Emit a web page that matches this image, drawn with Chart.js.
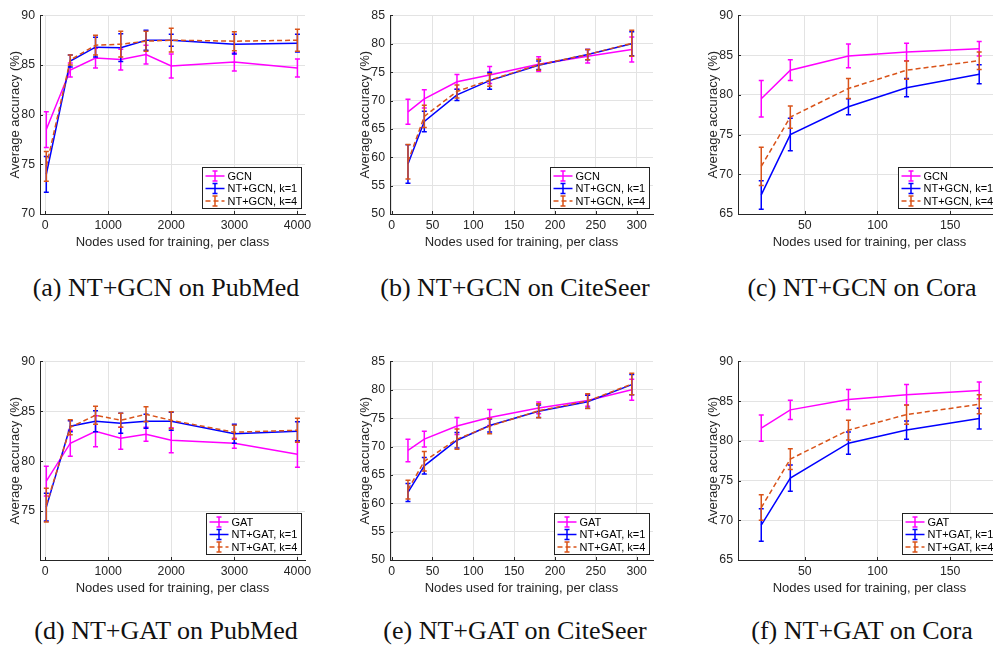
<!DOCTYPE html>
<html><head><meta charset="utf-8">
<script src="https://cdn.jsdelivr.net/npm/chart.js@4.4.0/dist/chart.umd.min.js"></script>
<style>
html,body{margin:0;padding:0;background:#fff;overflow:hidden;width:993px;height:646px;}
#wrap{position:relative;width:993px;height:646px;overflow:hidden;background:#fff;}
#wrap canvas{position:absolute;}
.cap{position:absolute;width:400px;text-align:center;font-family:'Liberation Serif','Times New Roman',serif;font-size:26px;line-height:26px;color:#111;white-space:nowrap;}
</style></head><body><div id="wrap"></div>
<script>
// ---------- data ----------
const xPubMed = [20, 400, 800, 1200, 1600, 2000, 3000, 4000];
const xCiteSeer = [20, 40, 80, 120, 180, 240, 294];
const xCora = [20, 40, 80, 120, 170];

const xTicksPubMed = [0, 1000, 2000, 3000, 4000];
const xTicksCiteSeer = [0, 50, 100, 150, 200, 250, 300];
const xTicksCora = [50, 100, 150];
const yTicksPubMedGcn = [70, 75, 80, 85, 90];
const yTicksPubMedGat = [75, 80, 85, 90];
const yTicksCiteSeer = [50, 55, 60, 65, 70, 75, 80, 85];
const yTicksCora = [65, 70, 75, 80, 85, 90];

const gcnLabels = ['GCN', 'NT+GCN, k=1', 'NT+GCN, k=4'];
const gatLabels = ['GAT', 'NT+GAT, k=1', 'NT+GAT, k=4'];
const captions = ['(a) NT+GCN on PubMed', '(b) NT+GCN on CiteSeer', '(c) NT+GCN on Cora',
                  '(d) NT+GAT on PubMed', '(e) NT+GAT on CiteSeer', '(f) NT+GAT on Cora'];
const xTitle = 'Nodes used for training, per class';
const yTitle = 'Average accuracy (%)';

// (a) PubMed, GCN
const gcnPubMed = [78.5, 84.5, 85.7, 85.55, 86.05, 84.9, 85.3, 84.7];
const gcnPubMedErr = [1.8, 0.7, 1.0, 1.05, 0.95, 1.2, 0.9, 0.9];
const ntGcnK1PubMed = [74.0, 85.4, 86.8, 86.75, 87.5, 87.5, 87.1, 87.2];
const ntGcnK1PubMedErr = [1.8, 0.6, 1.0, 1.4, 1.0, 0.6, 1.0, 0.9];
const ntGcnK4PubMed = [74.8, 85.5, 87.0, 87.1, 87.4, 87.5, 87.4, 87.5];
const ntGcnK4PubMedErr = [1.5, 0.5, 1.0, 1.3, 1.0, 1.2, 0.95, 1.1];

// (b) CiteSeer, GCN
const gcnCiteSeer = [68.0, 70.3, 73.3, 74.5, 76.4, 77.8, 79.0];
const gcnCiteSeerErr = [2.2, 1.6, 1.3, 1.5, 1.3, 1.2, 2.2];
const ntGcnK1CiteSeer = [58.8, 66.3, 71.0, 73.5, 76.2, 78.1, 80.0];
const ntGcnK1CiteSeerErr = [3.4, 1.8, 1.0, 1.5, 0.75, 0.9, 2.1];
const ntGcnK4CiteSeer = [59.2, 67.2, 71.6, 73.6, 76.3, 78.1, 80.1];
const ntGcnK4CiteSeerErr = [3.05, 1.95, 1.15, 1.1, 0.95, 0.9, 2.3];

// (c) Cora, GCN
const gcnCora = [79.5, 83.1, 84.9, 85.4, 85.8];
const gcnCoraErr = [2.3, 1.3, 1.5, 1.1, 0.9];
const ntGcnK1Cora = [67.4, 75.0, 78.5, 80.9, 82.6];
const ntGcnK1CoraErr = [1.8, 2.05, 1.0, 1.15, 1.2];
const ntGcnK4Cora = [71.0, 77.2, 80.8, 83.1, 84.3];
const ntGcnK4CoraErr = [2.4, 1.4, 1.25, 1.15, 1.1];

// (d) PubMed, GAT
const gatPubMed = [78.0, 81.8, 83.0, 82.3, 82.7, 82.1, 81.8, 80.7];
const gatPubMedErr = [1.5, 1.3, 1.55, 1.1, 0.7, 1.25, 0.5, 1.3];
const ntGatK1PubMed = [75.4, 83.5, 84.0, 83.8, 84.0, 84.0, 82.75, 83.0];
const ntGatK1PubMedErr = [1.4, 0.55, 1.05, 1.0, 0.7, 0.9, 0.95, 0.95];
const ntGatK4PubMed = [75.6, 83.4, 84.6, 84.1, 84.7, 84.1, 82.9, 83.1];
const ntGatK4PubMedErr = [1.7, 0.75, 0.9, 0.7, 0.75, 0.85, 0.7, 1.2];

// (e) CiteSeer, GAT
const gatCiteSeer = [69.3, 71.3, 73.6, 75.1, 76.8, 78.1, 80.0];
const gatCiteSeerErr = [2.0, 1.4, 1.5, 1.4, 1.05, 1.0, 1.85];
const ntGatK1CiteSeer = [61.9, 66.6, 71.1, 73.7, 76.2, 77.9, 80.9];
const ntGatK1CiteSeerErr = [1.6, 1.45, 1.35, 1.15, 1.1, 1.15, 1.8];
const ntGatK4CiteSeer = [62.4, 67.4, 71.3, 73.6, 76.3, 78.0, 81.0];
const ntGatK4CiteSeerErr = [1.65, 1.7, 1.8, 1.35, 1.25, 1.3, 1.9];

// (f) Cora, GAT
const gatCora = [81.6, 83.9, 85.2, 85.8, 86.35];
const gatCoraErr = [1.65, 1.2, 1.25, 1.3, 1.05];
const ntGatK1Cora = [69.4, 75.3, 79.7, 81.35, 82.8];
const ntGatK1CoraErr = [2.05, 1.65, 1.4, 1.15, 1.3];
const ntGatK4Cora = [71.6, 77.7, 81.35, 83.3, 84.6];
const ntGatK4CoraErr = [1.6, 1.3, 1.25, 1.2, 1.2];

// ---------- styling / layout ----------
const COLORS = ['#ff00ff', '#0000ff', '#d95319'];
const DASHES = [[], [], [5, 3]];
const AXIS_COLOR = '#262626';
const GRID_COLOR = '#e3e3e3';
const CAP = 2.5;
Chart.defaults.font.family = "'Liberation Sans', Arial, Helvetica, sans-serif";

const errorBarPlugin = {
  id: 'errbars',
  afterDatasetDraw(chart, args) {
    const ds = chart.data.datasets[args.index];
    if (!ds.err) return;
    const ctx = chart.ctx, xs = chart.scales.x, ys = chart.scales.y;
    ctx.save();
    ctx.strokeStyle = ds.borderColor;
    ctx.lineWidth = 1.5;
    ctx.setLineDash([]);
    ds.data.forEach((p, i) => {
      const px = xs.getPixelForValue(p.x);
      const y1 = ys.getPixelForValue(p.y - ds.err[i]);
      const y2 = ys.getPixelForValue(p.y + ds.err[i]);
      ctx.beginPath();
      ctx.moveTo(px, y1); ctx.lineTo(px, y2);
      ctx.moveTo(px - CAP, y1); ctx.lineTo(px + CAP, y1);
      ctx.moveTo(px - CAP, y2); ctx.lineTo(px + CAP, y2);
      ctx.stroke();
    });
    ctx.restore();
  }
};

const decorPlugin = {
  id: 'decor',
  afterDraw(chart) {
    const a = chart.chartArea, ctx = chart.ctx;
    const xs = chart.scales.x, ys = chart.scales.y;
    ctx.save();
    // inward tick marks
    ctx.strokeStyle = AXIS_COLOR; ctx.lineWidth = 1; ctx.setLineDash([]);
    ctx.beginPath();
    xs.ticks.forEach(t => {
      const px = Math.round(xs.getPixelForValue(t.value)) + 0.5;
      ctx.moveTo(px, a.bottom); ctx.lineTo(px, a.bottom - 3);
    });
    ys.ticks.forEach(t => {
      const py = Math.round(ys.getPixelForValue(t.value)) + 0.5;
      ctx.moveTo(a.left, py); ctx.lineTo(a.left + 3, py);
    });
    ctx.stroke();
    // legend box (bottom-right, inside plot)
    const dsets = chart.data.datasets;
    ctx.font = "11px 'Liberation Sans', Arial, sans-serif";
    const tw = Math.max(...dsets.map(d => ctx.measureText(d.label).width));
    const w = Math.round(25 + tw + 4), h = 41;
    const L = Math.round(a.right - 4 - w) + 0.5, T = Math.round(a.bottom - 6 - h) + 0.5;
    ctx.fillStyle = '#fff'; ctx.fillRect(L, T, w, h);
    ctx.strokeStyle = '#222'; ctx.lineWidth = 1; ctx.strokeRect(L, T, w, h);
    dsets.forEach((d, i) => {
      const cy = T + 8.5 + i * 12.5;
      ctx.strokeStyle = d.borderColor; ctx.lineWidth = 1.5;
      ctx.setLineDash(d.borderDash || []);
      ctx.beginPath(); ctx.moveTo(L + 3, cy); ctx.lineTo(L + 22, cy); ctx.stroke();
      ctx.setLineDash([]);
      const mx = L + 12.5;
      ctx.beginPath();
      ctx.moveTo(mx, cy - 5); ctx.lineTo(mx, cy + 5);
      ctx.moveTo(mx - CAP, cy - 5); ctx.lineTo(mx + CAP, cy - 5);
      ctx.moveTo(mx - CAP, cy + 5); ctx.lineTo(mx + CAP, cy + 5);
      ctx.stroke();
      ctx.fillStyle = '#000'; ctx.textBaseline = 'middle'; ctx.textAlign = 'left';
      ctx.fillText(d.label, L + 25, cy + 0.5);
    });
    ctx.restore();
  }
};

function makeDatasets(xs, labels, series, errs) {
  return series.map((s, k) => ({
    label: labels[k],
    data: xs.map((x, i) => ({ x: x, y: s[i] })),
    err: errs[k],
    borderColor: COLORS[k],
    backgroundColor: COLORS[k],
    borderWidth: 1.5,
    borderDash: DASHES[k],
    pointRadius: 0,
    tension: 0,
    fill: false,
    order: 3 - k
  }));
}

function makePanel(p) {
  const wrap = document.getElementById('wrap');
  const cv = document.createElement('canvas');
  cv.width = p.w; cv.height = p.h;
  cv.style.left = p.left + 'px'; cv.style.top = p.top + 'px';
  cv.style.width = p.w + 'px'; cv.style.height = p.h + 'px';
  wrap.appendChild(cv);
  new Chart(cv.getContext('2d'), {
    type: 'line',
    data: { datasets: makeDatasets(p.xs, p.labels, p.series, p.errs) },
    options: {
      responsive: false, animation: false, devicePixelRatio: 1,
      layout: { padding: { top: 10, right: 15, left: 0, bottom: 0 } },
      plugins: { legend: { display: false }, tooltip: { enabled: false } },
      scales: {
        x: {
          type: 'linear', min: p.xmin, max: p.xmax,
          afterBuildTicks: s => { s.ticks = p.xticks.map(v => ({ value: v })); },
          afterFit: s => { s.height = 40; },
          grid: { color: GRID_COLOR, drawTicks: false },
          border: { color: AXIS_COLOR, width: 1 },
          ticks: { padding: 4, color: AXIS_COLOR, font: { size: 12.3 }, maxRotation: 0, autoSkip: false, callback: v => String(v) },
          title: { display: true, text: xTitle, color: AXIS_COLOR, font: { size: 13 }, padding: { top: 0, bottom: 4.2 } }
        },
        y: {
          type: 'linear', min: p.ymin, max: p.ymax,
          afterBuildTicks: s => { s.ticks = p.yticks.map(v => ({ value: v })); },
          afterFit: s => { s.width = 40; },
          grid: { color: GRID_COLOR, drawTicks: false },
          border: { color: AXIS_COLOR, width: 1 },
          ticks: { padding: 5, color: AXIS_COLOR, font: { size: 12.3 }, autoSkip: false, callback: v => String(v) },
          title: { display: true, text: yTitle, color: AXIS_COLOR, font: { size: 13 }, padding: { top: 7.2, bottom: 0 } }
        }
      }
    },
    plugins: [errorBarPlugin, decorPlugin]
  });
}

const rowTops = [3, 349];
const colLefts = [0, 350, 698];
const colWidths = [320, 318, 318];
const H = 251;

const panels = [
  { xs: xPubMed, labels: gcnLabels, series: [gcnPubMed, ntGcnK1PubMed, ntGcnK4PubMed], errs: [gcnPubMedErr, ntGcnK1PubMedErr, ntGcnK4PubMedErr], xmin: -80, xmax: 4120, xticks: xTicksPubMed, ymin: 70, ymax: 90, yticks: yTicksPubMedGcn },
  { xs: xCiteSeer, labels: gcnLabels, series: [gcnCiteSeer, ntGcnK1CiteSeer, ntGcnK4CiteSeer], errs: [gcnCiteSeerErr, ntGcnK1CiteSeerErr, ntGcnK4CiteSeerErr], xmin: -2, xmax: 320, xticks: xTicksCiteSeer, ymin: 50, ymax: 85, yticks: yTicksCiteSeer },
  { xs: xCora, labels: gcnLabels, series: [gcnCora, ntGcnK1Cora, ntGcnK4Cora], errs: [gcnCoraErr, ntGcnK1CoraErr, ntGcnK4CoraErr], xmin: 4, xmax: 185, xticks: xTicksCora, ymin: 65, ymax: 90, yticks: yTicksCora },
  { xs: xPubMed, labels: gatLabels, series: [gatPubMed, ntGatK1PubMed, ntGatK4PubMed], errs: [gatPubMedErr, ntGatK1PubMedErr, ntGatK4PubMedErr], xmin: -80, xmax: 4120, xticks: xTicksPubMed, ymin: 70.1, ymax: 90, yticks: yTicksPubMedGat },
  { xs: xCiteSeer, labels: gatLabels, series: [gatCiteSeer, ntGatK1CiteSeer, ntGatK4CiteSeer], errs: [gatCiteSeerErr, ntGatK1CiteSeerErr, ntGatK4CiteSeerErr], xmin: -2, xmax: 320, xticks: xTicksCiteSeer, ymin: 50, ymax: 85, yticks: yTicksCiteSeer },
  { xs: xCora, labels: gatLabels, series: [gatCora, ntGatK1Cora, ntGatK4Cora], errs: [gatCoraErr, ntGatK1CoraErr, ntGatK4CoraErr], xmin: 4, xmax: 185, xticks: xTicksCora, ymin: 65, ymax: 90, yticks: yTicksCora }
];

const capCenters = [166, 515, 862];
const capTops = [275, 618];

panels.forEach((p, i) => {
  const r = Math.floor(i / 3), c = i % 3;
  p.left = colLefts[c]; p.top = rowTops[r]; p.w = colWidths[c]; p.h = H;
  makePanel(p);
  const d = document.createElement('div');
  d.className = 'cap';
  d.textContent = captions[i];
  d.style.left = (capCenters[c] - 200) + 'px';
  d.style.top = capTops[r] + 'px';
  document.getElementById('wrap').appendChild(d);
});
</script>
</body></html>
